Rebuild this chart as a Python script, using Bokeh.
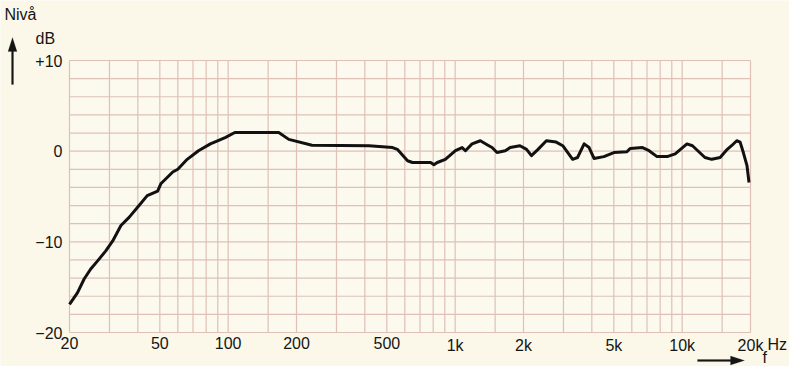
from bokeh.plotting import figure
from bokeh.models import Label, PolyAnnotation, Range1d
from bokeh.embed import file_html
from bokeh.resources import INLINE

# Frequency response (Hz, dB)
freq = [20, 21.7, 23.2, 24.8, 26.6, 28.9, 31, 33.7, 36.6, 40.5, 44, 48.9, 50.5,
        57, 60, 66, 74, 83.5, 97, 107, 167, 185, 234, 417, 530, 556, 617, 648,
        780, 806, 834, 905, 1003, 1073, 1110, 1187, 1291, 1407, 1454, 1529, 1662,
        1747, 1929, 2063, 2168, 2318, 2522, 2786, 2978, 3293, 3460, 3700, 3890,
        4090, 4520, 5000, 5710, 5900, 6690, 7150, 7750, 8580, 9320, 10500, 11100,
        12600, 13500, 14700, 15800, 16500, 17400, 18000, 18600, 19300, 19700]
level = [-16.9, -15.6, -14.1, -13.0, -12.1, -11.0, -9.9, -8.2, -7.3, -6.0, -4.9, -4.4, -3.6,
         -2.3, -2.0, -0.9, 0.05, 0.8, 1.5, 2.06, 2.06, 1.3, 0.66, 0.6, 0.4, 0.2, -1.06, -1.25,
         -1.25, -1.5, -1.25, -0.9, 0.05, 0.4, 0.05, 0.8, 1.15, 0.6, 0.4, -0.15, 0.05,
         0.4, 0.6, 0.2, -0.5, 0.2, 1.15, 1.0, 0.6, -0.9, -0.7, 0.8, 0.4,
         -0.8, -0.6, -0.15, -0.07, 0.3, 0.4, 0.05, -0.6, -0.6, -0.3, 0.8, 0.6,
         -0.7, -0.9, -0.7, 0.2, 0.6, 1.15, 1.0, -0.15, -1.6, -3.45]

grid_freqs = [20, 30, 40, 50, 60, 70, 80, 90, 100, 150, 200, 300, 400, 500, 600, 700,
              800, 900, 1000, 1500, 2000, 3000, 4000, 5000, 6000, 7000, 8000, 9000,
              10000, 15000, 20000]
grid_db = list(range(-20, 11, 2))
x_ticks = [20, 50, 100, 200, 500, 1000, 2000, 5000, 10000, 20000]
x_labels = ["20", "50", "100", "200", "500", "1k", "2k", "5k", "10k", "20k"]
y_ticks = [10, 0, -10, -20]
y_labels = ["+10", "0", "\u221210", "\u221220"]

F_MIN, F_MAX = 20, 20000
DB_MIN, DB_MAX = -20, 10

FONT = "Liberation Sans"
FSIZE = "16px"
GRID = "#dfc0b6"
INK = "#151515"

W, H = 789, 366
# chart rectangle inside the canvas (pixels): left, right, top, bottom
L, R, T, B = 69, 750, 60, 332
dec_px = (R - L) / 3.0
db_px = (B - T) / float(DB_MAX - DB_MIN)
x_range = Range1d(F_MIN * 10 ** (-L / dec_px), F_MAX * 10 ** ((W - R) / dec_px))
y_range = Range1d(DB_MIN - (H - B) / db_px, DB_MAX + T / db_px)

p = figure(width=W, height=H, x_axis_type="log", x_range=x_range, y_range=y_range,
           x_axis_location=None, y_axis_location=None,
           output_backend="svg", toolbar_location=None,
           min_border=0, min_border_left=0, min_border_right=0,
           min_border_top=0, min_border_bottom=0)
p.background_fill_color = "#fbf8e9"
p.border_fill_color = "#fbf8e9"
p.outline_line_color = None
p.grid.visible = False

# chart paper
p.quad(left=F_MIN, right=F_MAX, bottom=DB_MIN, top=DB_MAX,
       fill_color="#fcf9ee", line_color=None)
p.segment(x0=grid_freqs, y0=DB_MIN, x1=grid_freqs, y1=DB_MAX,
          line_color=GRID, line_width=1.2)
p.segment(x0=F_MIN, y0=grid_db, x1=F_MAX, y1=grid_db,
          line_color=GRID, line_width=1.2)

# tick labels
p.text(x=x_ticks, y=[DB_MIN] * len(x_ticks), text=x_labels, y_offset=4,
       text_align="center", text_baseline="top",
       text_font={"value": FONT}, text_font_size=FSIZE, text_color=INK)
p.text(x=[F_MIN] * len(y_ticks), y=y_ticks, text=y_labels, x_offset=-7,
       text_align="right", text_baseline="middle",
       text_font={"value": FONT}, text_font_size=FSIZE, text_color=INK)

# response curve
p.line(freq, level, line_color="#111111", line_width=3, line_join="round")

# free texts (screen units: x from left, y up from bottom of canvas)
def lab(text, x, y):
    p.add_layout(Label(x=x, y=y, x_units="screen", y_units="screen", text=text,
                       text_font=FONT, text_font_size=FSIZE, text_color=INK))

lab("Niv\u00e5", 4, 344)
lab("dB", 35, 320)
lab("Hz", 767, 14)
lab("f", 762, 1)

# arrows as polygons (screen units)
p.add_layout(PolyAnnotation(xs=[12, 16.5, 13, 13, 11, 11, 7.5],
                            ys=[329, 315, 315, 282, 282, 315, 315],
                            xs_units="screen", ys_units="screen",
                            fill_color=INK, fill_alpha=1, line_color=INK, line_width=0.5))
p.add_layout(PolyAnnotation(xs=[744, 730, 730, 697, 697, 730, 730],
                            ys=[6, 10.5, 7, 7, 5, 5, 1.5],
                            xs_units="screen", ys_units="screen",
                            fill_color=INK, fill_alpha=1, line_color=INK, line_width=0.5))

open("out.html", "w").write(file_html(p, INLINE))
